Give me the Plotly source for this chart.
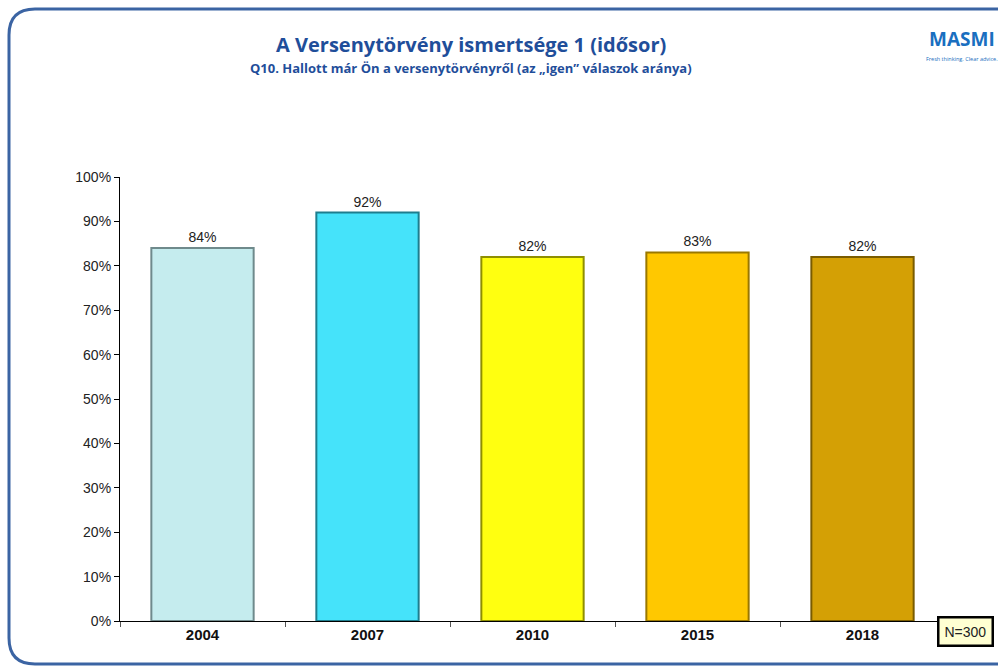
import plotly.graph_objects as go

years = ["2004", "2007", "2010", "2015", "2018"]
values = [0.84, 0.92, 0.82, 0.83, 0.82]
bar_colors = ["#C5ECEE", "#45E3FA", "#FFFF10", "#FFC800", "#D4A005"]
edge_colors = ["#6F8A8C", "#1E7E8E", "#8F8F00", "#9A7800", "#7A5C00"]
value_labels = ["84%", "92%", "82%", "83%", "82%"]

W, H = 998, 672
L, R, T, B = 120, 53, 177, 51
pw, ph = W - L - R, H - T - B


def px(x):
    return (x - L) / pw


def py(y):
    return (H - B - y) / ph


fig = go.Figure()
fig.add_trace(go.Bar(
    x=years, y=values,
    marker=dict(color=bar_colors, line=dict(color=edge_colors, width=2)),
    width=0.62,
    text=value_labels, textposition="outside",
    textfont=dict(family="Liberation Sans, Arial", size=14, color="#222222"),
    cliponaxis=False,
))

# rounded frame
x0, y0, x1, y1, r = 9, 9, 1010, 664, 26
path = (f"M {px(x0)},{py(y0 + r)} "
        f"Q {px(x0)},{py(y0)} {px(x0 + r)},{py(y0)} "
        f"L {px(x1)},{py(y0)} "
        f"M {px(x0)},{py(y0 + r)} "
        f"L {px(x0)},{py(y1 - r)} "
        f"Q {px(x0)},{py(y1)} {px(x0 + r)},{py(y1)} "
        f"L {px(x1)},{py(y1)}")
fig.add_shape(type="path", xref="paper", yref="paper", path=path,
              line=dict(color="#3B64A3", width=3))

fig.add_annotation(text="<b>A Versenytörvény ismertsége 1 (idősor)</b>",
                   xref="paper", yref="paper", x=px(471), y=py(44),
                   showarrow=False, xanchor="center", yanchor="middle",
                   font=dict(family="Open Sans, Lato", size=20, color="#1F4E9A"))
fig.add_annotation(text="<b>Q10. Hallott már Ön a versenytörvényről (az „igen” válaszok aránya)</b>",
                   xref="paper", yref="paper", x=px(471), y=py(68),
                   showarrow=False, xanchor="center", yanchor="middle",
                   font=dict(family="Open Sans, Lato", size=13, color="#1F4E9A"))
fig.add_annotation(text="<b>MASMI</b>", xref="paper", yref="paper",
                   x=px(962), y=py(39), showarrow=False, xanchor="center", yanchor="middle",
                   font=dict(family="Open Sans, Lato", size=19, color="#1A6FC0"))
fig.add_annotation(text="Fresh thinking. Clear advice.", xref="paper", yref="paper",
                   x=px(962), y=py(59), showarrow=False, xanchor="center", yanchor="middle",
                   font=dict(family="Open Sans, Lato", size=5.5, color="#1A6FC0"))
fig.add_annotation(text="N=300", xref="paper", yref="paper",
                   x=px(965), y=py(631), showarrow=False, xanchor="center", yanchor="middle",
                   font=dict(family="Liberation Sans, Arial", size=14, color="#222222"),
                   bgcolor="#FFFFD2", bordercolor="#000000", borderwidth=2.5, borderpad=5)

fig.update_layout(
    width=W, height=H,
    margin=dict(l=L, r=R, t=T, b=B, pad=0),
    paper_bgcolor="white", plot_bgcolor="white",
    showlegend=False,
    bargap=0.38,
    xaxis=dict(type="category", showline=True, linecolor="#000000", linewidth=1.2,
               ticks="outside", tickson="boundaries", ticklen=5, tickcolor="#555555",
               tickfont=dict(family="Liberation Sans, Arial", size=15, color="#111111"),
               tickprefix="<b>", ticksuffix="</b>", showgrid=False),
    yaxis=dict(range=[0, 1], dtick=0.1, tickformat=".0%", showline=True,
               linecolor="#000000", linewidth=1.2, ticks="outside", ticklen=5,
               tickcolor="#000000", showgrid=False, zeroline=False,
               tickfont=dict(family="Liberation Sans, Arial", size=14, color="#222222")),
)

fig.write_html("out.html")
